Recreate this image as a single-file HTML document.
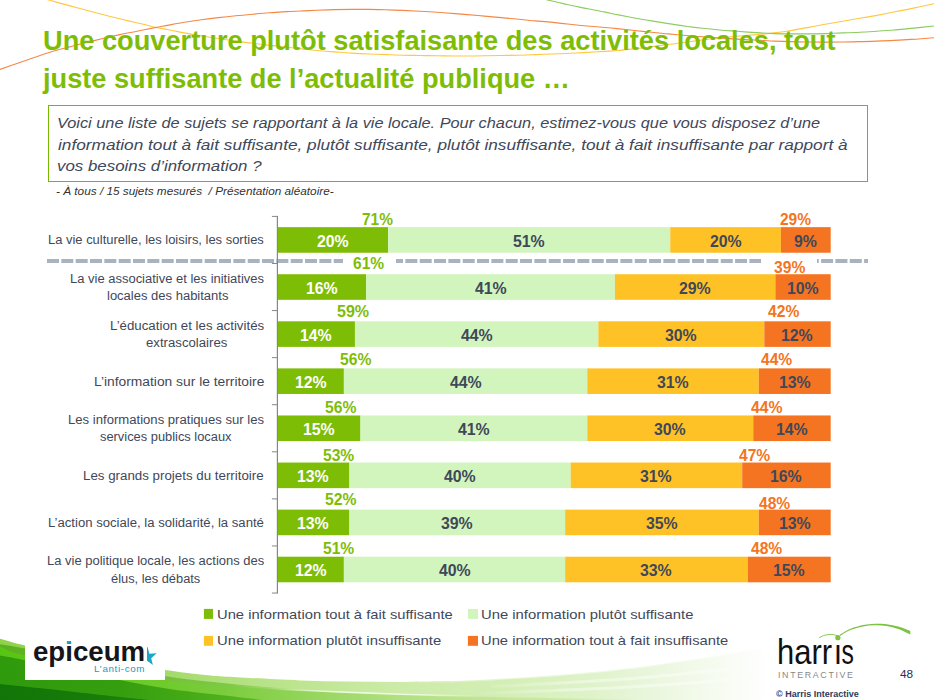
<!DOCTYPE html>
<html lang="fr">
<head>
<meta charset="utf-8">
<title>Une couverture plutôt satisfaisante des activités locales</title>
<style>
html,body{margin:0;padding:0;background:#fff;}
body{width:934px;height:700px;overflow:hidden;position:relative;font-family:"Liberation Sans", sans-serif;}
#slide{position:absolute;left:0;top:0;width:934px;height:700px;overflow:hidden;background:#fff;}
.t{position:absolute;white-space:pre;margin:0;padding:0;transform-origin:left center;}
svg{position:absolute;left:0;top:0;}
#qbox{position:absolute;left:47.8px;top:104.9px;width:818.7px;height:75.3px;border:1.3px solid #76b900;box-sizing:content-box;}
.wb{position:absolute;background:#fff;}
</style>
</head>
<body>
<div id="slide">
<svg width="934" height="700" viewBox="0 0 934 700"><defs>
<linearGradient id="g1" gradientUnits="userSpaceOnUse" x1="0" y1="0" x2="800" y2="0">
<stop offset="0" stop-color="#8ed24a"/><stop offset="0.206" stop-color="#a2da6a"/><stop offset="0.275" stop-color="#b0e07c"/>
<stop offset="0.375" stop-color="#bde590"/><stop offset="0.5" stop-color="#cceba8"/><stop offset="0.625" stop-color="#d3eeb4"/>
<stop offset="0.75" stop-color="#e0f3cc"/><stop offset="0.8125" stop-color="#e9f6dc"/><stop offset="0.875" stop-color="#f3faeb"/><stop offset="0.925" stop-color="#fafdf7"/><stop offset="0.96" stop-color="#ffffff"/><stop offset="1" stop-color="#ffffff"/>
</linearGradient>
<linearGradient id="g2" gradientUnits="userSpaceOnUse" x1="0" y1="0" x2="330" y2="0">
<stop offset="0" stop-color="#5bb01e"/><stop offset="0.5" stop-color="#76c03c"/><stop offset="0.7" stop-color="#80c84a"/><stop offset="1" stop-color="#a8dc74" stop-opacity="0"/>
</linearGradient>
<linearGradient id="g3" gradientUnits="userSpaceOnUse" x1="0" y1="0" x2="660" y2="0">
<stop offset="0" stop-color="#58c414"/><stop offset="0.25" stop-color="#6fcb2c"/><stop offset="0.333" stop-color="#7acc3c"/>
<stop offset="0.455" stop-color="#92d458"/><stop offset="0.6" stop-color="#b0e080"/><stop offset="0.85" stop-color="#cdeaa8"/><stop offset="1" stop-color="#d8f0c0" stop-opacity="0"/>
</linearGradient>
<linearGradient id="g4" gradientUnits="userSpaceOnUse" x1="0" y1="0" x2="270" y2="0">
<stop offset="0" stop-color="#2f9a0c"/><stop offset="0.45" stop-color="#359e0f"/><stop offset="0.62" stop-color="#40a614"/><stop offset="1" stop-color="#5cb824"/>
</linearGradient>
<linearGradient id="g5" gradientUnits="userSpaceOnUse" x1="0" y1="0" x2="160" y2="0">
<stop offset="0" stop-color="#127507"/><stop offset="0.6" stop-color="#177c09"/><stop offset="1" stop-color="#228a0c"/>
</linearGradient>
<linearGradient id="gh" gradientUnits="userSpaceOnUse" x1="270" y1="0" x2="480" y2="0">
<stop offset="0" stop-color="#ffffff" stop-opacity="0"/><stop offset="0.3" stop-color="#f4fbea" stop-opacity="0.9"/><stop offset="0.7" stop-color="#f4fbea" stop-opacity="0.8"/><stop offset="1" stop-color="#ffffff" stop-opacity="0"/>
</linearGradient>
<linearGradient id="ge" gradientUnits="userSpaceOnUse" x1="400" y1="0" x2="800" y2="0">
<stop offset="0" stop-color="#ffffff" stop-opacity="0"/><stop offset="0.3" stop-color="#ffffff" stop-opacity="0.5"/><stop offset="1" stop-color="#ffffff" stop-opacity="0.5"/>
</linearGradient>
<linearGradient id="gs" gradientUnits="userSpaceOnUse" x1="470" y1="0" x2="760" y2="0">
<stop offset="0" stop-color="#ffffff" stop-opacity="0"/><stop offset="0.35" stop-color="#ffffff" stop-opacity="0.4"/><stop offset="0.8" stop-color="#ffffff" stop-opacity="0.4"/><stop offset="1" stop-color="#ffffff" stop-opacity="0"/>
</linearGradient>
</defs><path d="M400.0 682.0C408.3 681.9 433.3 681.8 450.0 681.3C466.7 680.8 483.3 679.8 500.0 678.8C516.7 677.8 533.3 676.9 550.0 675.6C566.7 674.4 586.0 672.6 600.0 671.3C614.0 670.0 622.3 669.0 634.0 667.6C645.7 666.2 655.7 664.7 670.0 662.6C684.3 660.5 707.5 657.0 720.0 655.0C732.5 653.0 735.8 652.2 745.0 650.5C754.2 648.8 765.8 646.8 775.0 645.0C784.2 643.2 795.8 640.8 800.0 640.0L800.0 708L400.0 708Z" fill="url(#g1)"/><path d="M-2.0 638.2C-1.7 638.3 -4.5 637.5 0.0 638.7C4.5 639.9 15.0 643.2 25.0 645.4C35.0 647.6 47.5 649.7 60.0 652.0C72.5 654.3 82.5 656.3 100.0 659.3C117.5 662.3 148.3 667.5 165.0 670.0C181.7 672.5 190.8 673.4 200.0 674.4C209.2 675.4 211.7 675.6 220.0 676.2C228.3 676.8 236.7 677.2 250.0 677.9C263.3 678.6 283.3 679.8 300.0 680.4C316.7 681.0 333.3 681.3 350.0 681.6C366.7 681.9 383.3 682.0 400.0 682.0C416.7 682.0 441.7 681.4 450.0 681.3L450.0 708L-2.0 708Z" fill="url(#g1)"/><path d="M400.0 682.0C408.3 681.9 433.3 681.8 450.0 681.3C466.7 680.8 483.3 679.8 500.0 678.8C516.7 677.8 533.3 676.9 550.0 675.6C566.7 674.4 586.0 672.6 600.0 671.3C614.0 670.0 622.3 669.0 634.0 667.6C645.7 666.2 655.7 664.7 670.0 662.6C684.3 660.5 707.5 657.0 720.0 655.0C732.5 653.0 735.8 652.2 745.0 650.5C754.2 648.8 765.8 646.8 775.0 645.0C784.2 643.2 795.8 640.8 800.0 640.0" stroke="url(#ge)" stroke-width="2.2" fill="none"/><path d="M474.0 693.5C485.0 693.1 517.2 691.9 540.0 691.0C562.8 690.1 586.0 689.3 611.0 688.0C636.0 686.7 665.2 684.8 690.0 683.0C714.8 681.2 748.3 678.4 760.0 677.5" stroke="url(#gs)" stroke-width="3" fill="none"/><path d="M491.0 686.5C504.2 685.8 544.3 684.0 570.0 682.5C595.7 681.0 622.5 679.3 645.0 677.5C667.5 675.7 685.8 673.7 705.0 671.5C724.2 669.3 750.8 665.7 760.0 664.5" stroke="url(#gs)" stroke-width="3" fill="none"/><path d="M-2.0 643.9C-1.7 644.0 -4.3 643.6 0.0 644.3C4.3 645.0 7.3 645.2 24.0 648.3C40.7 651.4 76.5 658.4 100.0 663.0C123.5 667.6 145.0 672.7 165.0 676.0C185.0 679.3 204.2 681.0 220.0 682.8C235.8 684.5 246.7 685.4 260.0 686.5C273.3 687.6 288.3 688.8 300.0 689.6C311.7 690.4 325.0 691.2 330.0 691.5L330.0 708L-2.0 708Z" fill="url(#g2)"/><path d="M-2.0 646.3C-1.7 646.4 -4.3 645.3 0.0 646.8C4.3 648.3 7.3 651.5 24.0 655.2C40.7 658.9 76.5 664.8 100.0 669.0C123.5 673.2 145.0 677.5 165.0 680.2C185.0 682.9 200.8 683.9 220.0 685.4C239.2 686.9 260.0 688.4 280.0 689.5C300.0 690.6 320.0 691.5 340.0 692.3C360.0 693.1 380.0 693.9 400.0 694.5C420.0 695.1 440.0 695.7 460.0 696.2C480.0 696.7 496.7 697.1 520.0 697.6C543.3 698.1 576.7 698.5 600.0 699.0C623.3 699.5 650.0 700.2 660.0 700.5L660.0 708L-2.0 708Z" fill="url(#g3)"/><path d="M-2.0 655.0C-1.7 655.1 -4.3 654.7 0.0 655.5C4.3 656.3 7.3 656.6 24.0 660.0C40.7 663.4 76.5 671.3 100.0 676.0C123.5 680.7 145.0 685.1 165.0 688.3C185.0 691.5 205.8 693.3 220.0 695.0C234.2 696.7 241.7 697.5 250.0 698.5C258.3 699.5 266.7 700.6 270.0 701.0L270.0 708L-2.0 708Z" fill="url(#g4)"/><path d="M-2.0 683.5C-1.7 683.6 -4.3 683.5 0.0 684.0C4.3 684.5 11.5 685.2 24.0 686.5C36.5 687.8 59.0 690.2 75.0 692.0C91.0 693.8 107.5 695.7 120.0 697.0C132.5 698.3 143.3 699.3 150.0 700.0C156.7 700.7 158.3 700.8 160.0 701.0L160.0 708L-2.0 708Z" fill="url(#g5)"/><path d="M270.0 689.0C275.0 689.2 288.3 689.7 300.0 690.2C311.7 690.7 323.3 691.3 340.0 692.0C356.7 692.7 383.3 693.6 400.0 694.2C416.7 694.8 426.7 695.0 440.0 695.4C453.3 695.8 473.3 696.2 480.0 696.4" stroke="url(#gh)" stroke-width="1.6" fill="none"/></svg>
<svg width="934" height="700" viewBox="0 0 934 700"><path d="M45.0 -1.2C45.6 -1.0 46.3 -0.7 48.8 0.0C51.3 0.7 55.3 1.8 60.0 3.1C64.7 4.4 71.4 6.2 77.1 7.7C82.8 9.2 88.5 10.8 94.2 12.3C99.9 13.8 105.6 15.4 111.3 16.8C117.0 18.2 122.8 19.6 128.5 20.9C134.2 22.2 141.2 23.8 145.6 24.8C150.0 25.9 151.4 26.4 155.0 27.2C158.6 28.0 162.2 28.6 167.1 29.5C172.0 30.4 178.6 31.8 184.3 32.9C190.0 34.0 195.7 35.1 201.4 36.0C207.1 36.9 212.8 37.6 218.5 38.5C224.2 39.4 230.0 40.3 235.7 41.1C241.4 41.9 247.1 42.6 252.8 43.3C258.5 44.0 264.2 44.7 269.9 45.4C275.6 46.1 281.5 46.7 287.0 47.3C292.5 47.9 298.0 48.6 303.0 49.1C308.0 49.6 311.9 50.0 317.1 50.5C322.3 51.0 328.6 51.5 334.3 51.9C340.0 52.3 345.7 52.8 351.4 53.1C357.1 53.5 362.8 53.8 368.5 54.0C374.2 54.2 380.0 54.4 385.7 54.6C391.4 54.8 397.1 55.1 402.8 55.2C408.5 55.4 414.2 55.4 419.9 55.5C425.6 55.6 431.1 55.7 437.0 55.8C442.9 55.9 450.0 56.0 455.0 56.0C460.0 56.0 462.2 56.0 467.1 56.0C472.0 56.0 478.6 55.9 484.3 55.8C490.0 55.7 495.7 55.6 501.4 55.5C507.1 55.4 512.8 55.4 518.5 55.2C524.2 55.1 530.0 54.8 535.7 54.6C541.4 54.4 547.1 54.2 552.8 54.0C558.5 53.8 564.2 53.6 569.9 53.3C575.6 53.0 581.1 52.7 587.0 52.4C592.9 52.1 600.0 51.7 605.0 51.4C610.0 51.1 612.2 50.9 617.1 50.5C622.0 50.1 628.6 49.4 634.3 48.8C640.0 48.2 645.7 47.5 651.4 46.8C657.1 46.1 662.8 45.2 668.5 44.5C674.2 43.8 680.0 43.1 685.7 42.3C691.4 41.5 697.1 40.6 702.8 39.9C708.5 39.2 714.2 38.6 719.9 38.0C725.6 37.4 730.3 36.9 737.0 36.3C743.7 35.7 753.8 34.9 760.0 34.3C766.2 33.7 768.8 33.5 774.0 32.9C779.2 32.3 785.4 31.4 791.1 30.5C796.8 29.6 802.6 28.4 808.3 27.4C814.0 26.3 819.7 25.2 825.4 24.2C831.1 23.2 836.8 22.2 842.5 21.2C848.2 20.2 854.0 19.3 859.7 18.3C865.4 17.3 871.1 16.4 876.8 15.4C882.5 14.3 888.2 13.1 893.9 12.0C899.6 10.9 904.3 10.0 911.0 8.6C917.7 7.2 929.2 4.8 934.0 3.8C938.8 2.8 939.0 2.7 940.0 2.5" stroke="#ffc840" stroke-width="1.1" fill="none"/><path d="M-4.0 70.8C-3.3 70.6 -3.5 70.6 0.0 69.4C3.5 68.2 11.4 65.4 17.1 63.4C22.8 61.4 28.6 59.3 34.3 57.4C40.0 55.5 45.7 53.4 51.4 51.7C57.1 50.0 62.8 48.6 68.5 47.1C74.2 45.6 80.0 44.2 85.7 42.8C91.4 41.4 97.1 39.9 102.8 38.5C108.5 37.1 114.2 35.8 119.9 34.6C125.6 33.4 131.2 32.4 137.0 31.2C142.8 30.0 150.0 28.6 155.0 27.6C160.0 26.6 162.2 26.3 167.1 25.4C172.0 24.5 178.6 23.2 184.3 22.3C190.0 21.4 195.7 20.5 201.4 19.7C207.1 18.9 212.8 18.2 218.5 17.6C224.2 17.0 230.0 16.4 235.7 15.8C241.4 15.2 247.1 14.7 252.8 14.2C258.5 13.7 264.2 13.2 269.9 12.8C275.6 12.4 281.5 11.9 287.0 11.6C292.5 11.3 298.0 11.1 303.0 10.9C308.0 10.7 311.9 10.5 317.1 10.3C322.3 10.1 328.6 9.8 334.3 9.6C340.0 9.4 345.7 9.4 351.4 9.4C357.1 9.4 362.8 9.3 368.5 9.4C374.2 9.5 380.0 9.6 385.7 9.8C391.4 10.0 397.1 10.2 402.8 10.4C408.5 10.7 414.2 11.0 419.9 11.3C425.6 11.6 431.1 11.9 437.0 12.3C442.9 12.7 450.0 13.2 455.0 13.6C460.0 14.0 462.2 14.2 467.1 14.6C472.0 15.0 478.6 15.6 484.3 16.1C490.0 16.6 495.7 17.1 501.4 17.6C507.1 18.1 512.8 18.6 518.5 19.2C524.2 19.8 530.0 20.4 535.7 20.9C541.4 21.4 547.1 21.8 552.8 22.4C558.5 23.0 564.2 23.7 569.9 24.3C575.6 24.9 581.1 25.5 587.0 26.0C592.9 26.5 600.0 27.1 605.0 27.5C610.0 27.9 612.2 28.1 617.1 28.6C622.0 29.1 628.6 29.9 634.3 30.5C640.0 31.1 645.7 31.6 651.4 32.2C657.1 32.8 662.8 33.4 668.5 33.9C674.2 34.4 680.0 35.0 685.7 35.5C691.4 36.0 697.1 36.4 702.8 36.8C708.5 37.2 714.2 37.6 719.9 38.0C725.6 38.4 730.3 38.7 737.0 39.1C743.7 39.5 753.8 40.0 760.0 40.3C766.2 40.6 768.8 40.9 774.0 41.1C779.2 41.3 785.4 41.5 791.1 41.6C796.8 41.8 802.6 41.9 808.3 42.0C814.0 42.1 819.7 42.1 825.4 42.1C831.1 42.1 836.8 42.1 842.5 42.0C848.2 41.9 854.0 41.8 859.7 41.6C865.4 41.5 871.1 41.3 876.8 41.1C882.5 40.9 888.2 40.7 893.9 40.4C899.6 40.1 904.3 39.8 911.0 39.4C917.7 39.0 929.2 38.1 934.0 37.7C938.8 37.3 939.0 37.3 940.0 37.2" stroke="#f58846" stroke-width="1.1" fill="none"/><path d="M543.0 -1.2C543.8 -1.0 544.6 -0.7 547.6 0.0C550.6 0.7 556.1 1.9 561.3 3.1C566.4 4.2 572.8 5.7 578.5 6.9C584.2 8.1 591.2 9.4 595.6 10.3C600.0 11.2 601.4 11.4 605.0 12.1C608.6 12.8 612.2 13.6 617.1 14.6C622.0 15.6 628.6 16.9 634.3 18.0C640.0 19.1 645.7 20.0 651.4 20.9C657.1 21.8 662.8 22.7 668.5 23.6C674.2 24.5 680.0 25.4 685.7 26.2C691.4 27.0 697.1 27.7 702.8 28.3C708.5 28.9 714.2 29.5 719.9 30.0C725.6 30.5 730.3 30.8 737.0 31.3C743.7 31.8 753.8 32.5 760.0 32.9C766.2 33.3 768.8 33.4 774.0 33.6C779.2 33.8 785.4 33.9 791.1 33.9C796.8 33.9 802.6 33.9 808.3 33.9C814.0 33.9 819.7 33.8 825.4 33.6C831.1 33.4 836.8 33.1 842.5 32.9C848.2 32.7 854.0 32.5 859.7 32.2C865.4 31.9 871.1 31.6 876.8 31.2C882.5 30.8 888.2 30.5 893.9 30.0C899.6 29.5 904.3 29.1 911.0 28.4C917.7 27.7 929.2 26.5 934.0 26.0C938.8 25.5 939.0 25.4 940.0 25.3" stroke="#8ccc60" stroke-width="1.1" fill="none"/></svg>
<div class="wb" style="left:24.9px;top:640px;width:139.9px;height:39.9px;"></div>
<div id="qbox"></div>
<svg width="934" height="700" viewBox="0 0 934 700"><path d="M47.00 261H59.00M61.34 261H73.34M75.67 261H87.67M90.00 261H102.00M104.34 261H116.34M118.68 261H130.68M133.01 261H145.01M147.35 261H159.35M161.68 261H173.68M176.02 261H188.02M190.35 261H202.35M204.69 261H216.69M219.02 261H231.02M233.36 261H245.36M247.69 261H259.69M262.03 261H274.03M276.36 261H288.36M290.70 261H302.70M305.03 261H317.03M319.37 261H331.37M333.70 261H345.70M348.03 261H360.03M362.37 261H374.37M376.70 261H388.70M391.04 261H403.04M405.37 261H417.37M419.71 261H431.71M434.04 261H446.04M448.38 261H460.38M462.71 261H474.71M477.05 261H489.05M491.38 261H503.38M505.72 261H517.72M520.05 261H532.05M534.39 261H546.39M548.72 261H560.72M563.06 261H575.06M577.39 261H589.39M591.73 261H603.73M606.06 261H618.06M620.40 261H632.40M634.74 261H646.74M649.07 261H661.07M663.41 261H675.41M677.74 261H689.74M692.08 261H704.08M706.41 261H718.41M720.75 261H732.75M735.08 261H747.08M749.42 261H761.42M763.75 261H775.75M778.09 261H790.09M792.42 261H804.42M806.76 261H818.76M821.09 261H833.09M835.43 261H847.43M849.76 261H861.76M864.10 261H868.00" stroke="#a9b2be" stroke-width="3.9" fill="none"/></svg>
<div class="wb" style="left:343px;top:255px;width:53px;height:16px;"></div>
<div class="wb" style="left:761px;top:255px;width:56px;height:16px;"></div>
<svg width="934" height="700" viewBox="0 0 934 700"><rect x="277.50" y="227.14" width="110.64" height="25.60" fill="#7ebd06"/><rect x="388.14" y="227.14" width="282.13" height="25.60" fill="#d2f5be"/><rect x="670.27" y="227.14" width="110.64" height="25.60" fill="#ffc226"/><rect x="780.91" y="227.14" width="49.79" height="25.60" fill="#f57421"/><rect x="277.50" y="274.22" width="88.51" height="25.60" fill="#7ebd06"/><rect x="366.01" y="274.22" width="248.94" height="25.60" fill="#d2f5be"/><rect x="614.95" y="274.22" width="160.43" height="25.60" fill="#ffc226"/><rect x="775.38" y="274.22" width="55.32" height="25.60" fill="#f57421"/><rect x="277.50" y="321.30" width="77.45" height="25.60" fill="#7ebd06"/><rect x="354.95" y="321.30" width="243.41" height="25.60" fill="#d2f5be"/><rect x="598.36" y="321.30" width="165.96" height="25.60" fill="#ffc226"/><rect x="764.32" y="321.30" width="66.38" height="25.60" fill="#f57421"/><rect x="277.50" y="368.38" width="66.38" height="25.60" fill="#7ebd06"/><rect x="343.88" y="368.38" width="243.41" height="25.60" fill="#d2f5be"/><rect x="587.29" y="368.38" width="171.49" height="25.60" fill="#ffc226"/><rect x="758.78" y="368.38" width="71.92" height="25.60" fill="#f57421"/><rect x="277.50" y="415.46" width="82.98" height="25.60" fill="#7ebd06"/><rect x="360.48" y="415.46" width="226.81" height="25.60" fill="#d2f5be"/><rect x="587.29" y="415.46" width="165.96" height="25.60" fill="#ffc226"/><rect x="753.25" y="415.46" width="77.45" height="25.60" fill="#f57421"/><rect x="277.50" y="462.54" width="71.92" height="25.60" fill="#7ebd06"/><rect x="349.42" y="462.54" width="221.28" height="25.60" fill="#d2f5be"/><rect x="570.70" y="462.54" width="171.49" height="25.60" fill="#ffc226"/><rect x="742.19" y="462.54" width="88.51" height="25.60" fill="#f57421"/><rect x="277.50" y="509.62" width="71.92" height="25.60" fill="#7ebd06"/><rect x="349.42" y="509.62" width="215.75" height="25.60" fill="#d2f5be"/><rect x="565.16" y="509.62" width="193.62" height="25.60" fill="#ffc226"/><rect x="758.78" y="509.62" width="71.92" height="25.60" fill="#f57421"/><rect x="277.50" y="556.70" width="66.38" height="25.60" fill="#7ebd06"/><rect x="343.88" y="556.70" width="221.28" height="25.60" fill="#d2f5be"/><rect x="565.16" y="556.70" width="182.56" height="25.60" fill="#ffc226"/><rect x="747.72" y="556.70" width="82.98" height="25.60" fill="#f57421"/><rect x="203.90" y="608.90" width="9.10" height="10.00" fill="#7ebd06"/><rect x="467.90" y="608.90" width="10.10" height="10.00" fill="#d2f5be"/><rect x="203.90" y="635.90" width="9.10" height="9.90" fill="#ffc226"/><rect x="467.90" y="635.90" width="10.10" height="9.90" fill="#f57421"/><rect x="276.8" y="215.90" width="1.2" height="377.64" fill="#84878c"/><rect x="271.9" y="215.90" width="5.5" height="1" fill="#84878c"/><rect x="271.9" y="262.98" width="5.5" height="1" fill="#84878c"/><rect x="271.9" y="310.06" width="5.5" height="1" fill="#84878c"/><rect x="271.9" y="357.14" width="5.5" height="1" fill="#84878c"/><rect x="271.9" y="404.22" width="5.5" height="1" fill="#84878c"/><rect x="271.9" y="451.30" width="5.5" height="1" fill="#84878c"/><rect x="271.9" y="498.38" width="5.5" height="1" fill="#84878c"/><rect x="271.9" y="545.46" width="5.5" height="1" fill="#84878c"/><rect x="271.9" y="592.54" width="5.5" height="1" fill="#84878c"/></svg>
<div class="t" id="title1" style="left:42.70px;top:27.00px;color:#7ebd06;font-size:28.0px;line-height:28.0px;font-weight:bold;font-style:normal;transform:scaleX(0.9719);">Une couverture plutôt satisfaisante des activités locales, tout</div>
<div class="t" id="title2" style="left:42.55px;top:65.00px;color:#7ebd06;font-size:28.0px;line-height:28.0px;font-weight:bold;font-style:normal;transform:scaleX(0.9704);">juste suffisante de l’actualité publique …</div>
<div class="t" id="q1" style="left:57.21px;top:116.00px;color:#3f4859;font-size:14.5px;line-height:14.5px;font-weight:normal;font-style:italic;transform:scaleX(1.1241);">Voici une liste de sujets se rapportant à la vie locale. Pour chacun, estimez-vous que vous disposez d’une</div>
<div class="t" id="q2" style="left:57.56px;top:138.00px;color:#3f4859;font-size:14.5px;line-height:14.5px;font-weight:normal;font-style:italic;transform:scaleX(1.1888);">information tout à fait suffisante, plutôt suffisante, plutôt insuffisante, tout à fait insuffisante par rapport à</div>
<div class="t" id="q3" style="left:57.27px;top:159.00px;color:#3f4859;font-size:14.5px;line-height:14.5px;font-weight:normal;font-style:italic;transform:scaleX(1.1641);">vos besoins d’information ?</div>
<div class="t" id="foot" style="left:55.53px;top:186.00px;color:#333;font-size:10.7px;line-height:10.7px;font-weight:normal;font-style:italic;transform:scaleX(1.1025);">- À tous / 15 sujets mesurés  / Présentation aléatoire-</div>
<div class="t" id="s0_0" style="left:316.86px;top:234.00px;color:#ffffff;font-size:16.0px;line-height:16.0px;font-weight:bold;font-style:normal;transform:scaleX(0.9900);">20%</div>
<div class="t" id="s0_1" style="left:513.20px;top:234.00px;color:#3f4859;font-size:16.0px;line-height:16.0px;font-weight:bold;font-style:normal;transform:scaleX(0.9900);">51%</div>
<div class="t" id="s0_2" style="left:709.63px;top:234.00px;color:#3f4859;font-size:16.0px;line-height:16.0px;font-weight:bold;font-style:normal;transform:scaleX(0.9900);">20%</div>
<div class="t" id="s0_3" style="left:794.18px;top:234.00px;color:#3f4859;font-size:16.0px;line-height:16.0px;font-weight:bold;font-style:normal;transform:scaleX(0.9900);">9%</div>
<div class="t" id="l0_0" style="left:47.96px;top:234.00px;color:#3f4859;font-size:12.3px;line-height:12.3px;font-weight:normal;font-style:normal;transform:scaleX(1.0526);">La vie culturelle, les loisirs, les sorties</div>
<div class="t" id="s1_0" style="left:305.62px;top:281.00px;color:#ffffff;font-size:16.0px;line-height:16.0px;font-weight:bold;font-style:normal;transform:scaleX(0.9900);">16%</div>
<div class="t" id="s1_1" style="left:474.68px;top:281.00px;color:#3f4859;font-size:16.0px;line-height:16.0px;font-weight:bold;font-style:normal;transform:scaleX(0.9900);">41%</div>
<div class="t" id="s1_2" style="left:679.21px;top:281.00px;color:#3f4859;font-size:16.0px;line-height:16.0px;font-weight:bold;font-style:normal;transform:scaleX(0.9900);">29%</div>
<div class="t" id="s1_3" style="left:786.91px;top:281.00px;color:#3f4859;font-size:16.0px;line-height:16.0px;font-weight:bold;font-style:normal;transform:scaleX(0.9900);">10%</div>
<div class="t" id="l1_0" style="left:69.86px;top:273.00px;color:#3f4859;font-size:12.3px;line-height:12.3px;font-weight:normal;font-style:normal;transform:scaleX(1.0551);">La vie associative et les initiatives</div>
<div class="t" id="l1_1" style="left:106.50px;top:290.00px;color:#3f4859;font-size:12.3px;line-height:12.3px;font-weight:normal;font-style:normal;transform:scaleX(1.0575);">locales des habitants</div>
<div class="t" id="s2_0" style="left:300.09px;top:328.00px;color:#ffffff;font-size:16.0px;line-height:16.0px;font-weight:bold;font-style:normal;transform:scaleX(0.9900);">14%</div>
<div class="t" id="s2_1" style="left:460.85px;top:328.00px;color:#3f4859;font-size:16.0px;line-height:16.0px;font-weight:bold;font-style:normal;transform:scaleX(0.9900);">44%</div>
<div class="t" id="s2_2" style="left:665.39px;top:328.00px;color:#3f4859;font-size:16.0px;line-height:16.0px;font-weight:bold;font-style:normal;transform:scaleX(0.9900);">30%</div>
<div class="t" id="s2_3" style="left:781.37px;top:328.00px;color:#3f4859;font-size:16.0px;line-height:16.0px;font-weight:bold;font-style:normal;transform:scaleX(0.9900);">12%</div>
<div class="t" id="l2_0" style="left:109.74px;top:320.00px;color:#3f4859;font-size:12.3px;line-height:12.3px;font-weight:normal;font-style:normal;transform:scaleX(1.0789);">L’éducation et les activités</div>
<div class="t" id="l2_1" style="left:146.05px;top:337.00px;color:#3f4859;font-size:12.3px;line-height:12.3px;font-weight:normal;font-style:normal;transform:scaleX(1.0719);">extrascolaires</div>
<div class="t" id="s3_0" style="left:294.56px;top:375.00px;color:#ffffff;font-size:16.0px;line-height:16.0px;font-weight:bold;font-style:normal;transform:scaleX(0.9900);">12%</div>
<div class="t" id="s3_1" style="left:449.79px;top:375.00px;color:#3f4859;font-size:16.0px;line-height:16.0px;font-weight:bold;font-style:normal;transform:scaleX(0.9900);">44%</div>
<div class="t" id="s3_2" style="left:657.09px;top:375.00px;color:#3f4859;font-size:16.0px;line-height:16.0px;font-weight:bold;font-style:normal;transform:scaleX(0.9900);">31%</div>
<div class="t" id="s3_3" style="left:778.61px;top:375.00px;color:#3f4859;font-size:16.0px;line-height:16.0px;font-weight:bold;font-style:normal;transform:scaleX(0.9900);">13%</div>
<div class="t" id="l3_0" style="left:93.50px;top:376.00px;color:#3f4859;font-size:12.3px;line-height:12.3px;font-weight:normal;font-style:normal;transform:scaleX(1.1227);">L’information sur le territoire</div>
<div class="t" id="s4_0" style="left:302.86px;top:422.00px;color:#ffffff;font-size:16.0px;line-height:16.0px;font-weight:bold;font-style:normal;transform:scaleX(0.9900);">15%</div>
<div class="t" id="s4_1" style="left:458.09px;top:422.00px;color:#3f4859;font-size:16.0px;line-height:16.0px;font-weight:bold;font-style:normal;transform:scaleX(0.9900);">41%</div>
<div class="t" id="s4_2" style="left:654.32px;top:422.00px;color:#3f4859;font-size:16.0px;line-height:16.0px;font-weight:bold;font-style:normal;transform:scaleX(0.9900);">30%</div>
<div class="t" id="s4_3" style="left:775.84px;top:422.00px;color:#3f4859;font-size:16.0px;line-height:16.0px;font-weight:bold;font-style:normal;transform:scaleX(0.9900);">14%</div>
<div class="t" id="l4_0" style="left:67.85px;top:414.00px;color:#3f4859;font-size:12.3px;line-height:12.3px;font-weight:normal;font-style:normal;transform:scaleX(1.0661);">Les informations pratiques sur les</div>
<div class="t" id="l4_1" style="left:100.33px;top:431.00px;color:#3f4859;font-size:12.3px;line-height:12.3px;font-weight:normal;font-style:normal;transform:scaleX(1.0456);">services publics locaux</div>
<div class="t" id="s5_0" style="left:297.32px;top:469.00px;color:#ffffff;font-size:16.0px;line-height:16.0px;font-weight:bold;font-style:normal;transform:scaleX(0.9900);">13%</div>
<div class="t" id="s5_1" style="left:444.26px;top:469.00px;color:#3f4859;font-size:16.0px;line-height:16.0px;font-weight:bold;font-style:normal;transform:scaleX(0.9900);">40%</div>
<div class="t" id="s5_2" style="left:640.49px;top:469.00px;color:#3f4859;font-size:16.0px;line-height:16.0px;font-weight:bold;font-style:normal;transform:scaleX(0.9900);">31%</div>
<div class="t" id="s5_3" style="left:770.31px;top:469.00px;color:#3f4859;font-size:16.0px;line-height:16.0px;font-weight:bold;font-style:normal;transform:scaleX(0.9900);">16%</div>
<div class="t" id="l5_0" style="left:83.23px;top:470.00px;color:#3f4859;font-size:12.3px;line-height:12.3px;font-weight:normal;font-style:normal;transform:scaleX(1.0832);">Les grands projets du territoire</div>
<div class="t" id="s6_0" style="left:297.32px;top:516.00px;color:#ffffff;font-size:16.0px;line-height:16.0px;font-weight:bold;font-style:normal;transform:scaleX(0.9900);">13%</div>
<div class="t" id="s6_1" style="left:441.34px;top:516.00px;color:#3f4859;font-size:16.0px;line-height:16.0px;font-weight:bold;font-style:normal;transform:scaleX(0.9900);">39%</div>
<div class="t" id="s6_2" style="left:646.03px;top:516.00px;color:#3f4859;font-size:16.0px;line-height:16.0px;font-weight:bold;font-style:normal;transform:scaleX(0.9900);">35%</div>
<div class="t" id="s6_3" style="left:778.61px;top:516.00px;color:#3f4859;font-size:16.0px;line-height:16.0px;font-weight:bold;font-style:normal;transform:scaleX(0.9900);">13%</div>
<div class="t" id="l6_0" style="left:48.05px;top:517.00px;color:#3f4859;font-size:12.3px;line-height:12.3px;font-weight:normal;font-style:normal;transform:scaleX(1.0670);">L’action sociale, la solidarité, la santé</div>
<div class="t" id="s7_0" style="left:294.56px;top:563.00px;color:#ffffff;font-size:16.0px;line-height:16.0px;font-weight:bold;font-style:normal;transform:scaleX(0.9900);">12%</div>
<div class="t" id="s7_1" style="left:438.72px;top:563.00px;color:#3f4859;font-size:16.0px;line-height:16.0px;font-weight:bold;font-style:normal;transform:scaleX(0.9900);">40%</div>
<div class="t" id="s7_2" style="left:640.49px;top:563.00px;color:#3f4859;font-size:16.0px;line-height:16.0px;font-weight:bold;font-style:normal;transform:scaleX(0.9900);">33%</div>
<div class="t" id="s7_3" style="left:773.08px;top:563.00px;color:#3f4859;font-size:16.0px;line-height:16.0px;font-weight:bold;font-style:normal;transform:scaleX(0.9900);">15%</div>
<div class="t" id="l7_0" style="left:46.76px;top:555.00px;color:#3f4859;font-size:12.3px;line-height:12.3px;font-weight:normal;font-style:normal;transform:scaleX(1.0558);">La vie politique locale, les actions des</div>
<div class="t" id="l7_1" style="left:110.86px;top:573.00px;color:#3f4859;font-size:12.3px;line-height:12.3px;font-weight:normal;font-style:normal;transform:scaleX(1.0447);">élus, les débats</div>
<div class="t" id="tg0" style="left:362.17px;top:212.00px;color:#7ebd06;font-size:16.0px;line-height:16.0px;font-weight:bold;font-style:normal;transform:scaleX(0.9660);">71%</div>
<div class="t" id="tg1" style="left:353.24px;top:256.00px;color:#7ebd06;font-size:16.0px;line-height:16.0px;font-weight:bold;font-style:normal;transform:scaleX(0.9702);">61%</div>
<div class="t" id="tg2" style="left:337.16px;top:304.00px;color:#7ebd06;font-size:16.0px;line-height:16.0px;font-weight:bold;font-style:normal;transform:scaleX(1.0042);">59%</div>
<div class="t" id="tg3" style="left:339.88px;top:352.00px;color:#7ebd06;font-size:16.0px;line-height:16.0px;font-weight:bold;font-style:normal;transform:scaleX(0.9817);">56%</div>
<div class="t" id="tg4" style="left:324.88px;top:400.00px;color:#7ebd06;font-size:16.0px;line-height:16.0px;font-weight:bold;font-style:normal;transform:scaleX(0.9817);">56%</div>
<div class="t" id="tg5" style="left:322.58px;top:448.00px;color:#7ebd06;font-size:16.0px;line-height:16.0px;font-weight:bold;font-style:normal;transform:scaleX(0.9753);">53%</div>
<div class="t" id="tg6" style="left:324.88px;top:492.00px;color:#7ebd06;font-size:16.0px;line-height:16.0px;font-weight:bold;font-style:normal;transform:scaleX(0.9817);">52%</div>
<div class="t" id="tg7" style="left:322.58px;top:541.00px;color:#7ebd06;font-size:16.0px;line-height:16.0px;font-weight:bold;font-style:normal;transform:scaleX(0.9753);">51%</div>
<div class="t" id="to0" style="left:780.48px;top:212.00px;color:#f57421;font-size:16.0px;line-height:16.0px;font-weight:bold;font-style:normal;transform:scaleX(0.9689);">29%</div>
<div class="t" id="to1" style="left:774.30px;top:260.00px;color:#f57421;font-size:16.0px;line-height:16.0px;font-weight:bold;font-style:normal;transform:scaleX(0.9779);">39%</div>
<div class="t" id="to2" style="left:768.29px;top:304.00px;color:#f57421;font-size:16.0px;line-height:16.0px;font-weight:bold;font-style:normal;transform:scaleX(0.9781);">42%</div>
<div class="t" id="to3" style="left:760.79px;top:352.00px;color:#f57421;font-size:16.0px;line-height:16.0px;font-weight:bold;font-style:normal;transform:scaleX(0.9750);">44%</div>
<div class="t" id="to4" style="left:750.79px;top:400.00px;color:#f57421;font-size:16.0px;line-height:16.0px;font-weight:bold;font-style:normal;transform:scaleX(0.9845);">44%</div>
<div class="t" id="to5" style="left:738.79px;top:448.00px;color:#f57421;font-size:16.0px;line-height:16.0px;font-weight:bold;font-style:normal;transform:scaleX(0.9750);">47%</div>
<div class="t" id="to6" style="left:758.59px;top:496.00px;color:#f57421;font-size:16.0px;line-height:16.0px;font-weight:bold;font-style:normal;transform:scaleX(0.9750);">48%</div>
<div class="t" id="to7" style="left:750.79px;top:541.00px;color:#f57421;font-size:16.0px;line-height:16.0px;font-weight:bold;font-style:normal;transform:scaleX(0.9750);">48%</div>
<div class="t" id="lg1" style="left:216.60px;top:608.00px;color:#3f4859;font-size:13.2px;line-height:13.2px;font-weight:normal;font-style:normal;transform:scaleX(1.1180);">Une information tout à fait suffisante</div>
<div class="t" id="lg2" style="left:481.40px;top:608.00px;color:#3f4859;font-size:13.2px;line-height:13.2px;font-weight:normal;font-style:normal;transform:scaleX(1.1244);">Une information plutôt suffisante</div>
<div class="t" id="lg3" style="left:216.60px;top:634.00px;color:#3f4859;font-size:13.2px;line-height:13.2px;font-weight:normal;font-style:normal;transform:scaleX(1.1258);">Une information plutôt insuffisante</div>
<div class="t" id="lg4" style="left:481.40px;top:634.00px;color:#3f4859;font-size:13.2px;line-height:13.2px;font-weight:normal;font-style:normal;transform:scaleX(1.1178);">Une information tout à fait insuffisante</div>
<div class="t" id="pg" style="left:900.04px;top:668.00px;color:#2a3050;font-size:11.6px;line-height:11.6px;font-weight:normal;font-style:normal;transform:scaleX(1.0167);">48</div>
<div class="t" id="copy" style="left:775.63px;top:690.00px;color:#2f3a5c;font-size:8.8px;line-height:8.8px;font-weight:bold;font-style:normal;transform:scaleX(1.0231);">© Harris Interactive</div>
<div class="t" id="harris" style="left:777.19px;top:634.00px;color:#111;font-size:35px;line-height:35px;font-weight:normal;font-style:normal;transform:scaleX(0.8844);">harr<span style="margin-left:2.7px">i</span><span style="display:inline-block;transform:scaleX(.8);transform-origin:left center;margin-left:.4px">s</span></div>
<div class="t" id="inter" style="left:778.44px;top:671.00px;color:#878787;font-size:8.6px;line-height:8.6px;font-weight:normal;font-style:normal;letter-spacing:1.6px;transform:scaleX(1.0300);">INTERACTIVE</div>
<div class="t" id="epi" style="left:32.77px;top:639.00px;color:#16161a;font-size:26.8px;line-height:26.8px;font-weight:bold;font-style:normal;transform:scaleX(1.0316);">epiceum</div>
<div class="t" id="anti" style="left:93.84px;top:665.00px;color:#149dc2;font-size:9.2px;line-height:9.2px;font-weight:normal;font-style:normal;letter-spacing:0.6px;transform:scaleX(1.0693);">L’anti-com</div>
<svg width="934" height="700" viewBox="0 0 934 700"><rect x="836" y="637.5" width="6" height="5.6" fill="#fff"/><rect x="66" y="636.5" width="6.5" height="5" fill="#fff"/><rect x="66.9" y="641" width="3.9" height="2.8" fill="#1ca7c6"/><path d="M839.5 635.0C840.4 634.4 843.0 632.7 845.0 631.6C847.0 630.5 848.2 629.7 851.2 628.6C854.2 627.5 859.1 625.9 863.0 625.1C866.9 624.3 870.9 623.9 874.8 623.8C878.7 623.7 882.7 623.8 886.6 624.3C890.5 624.8 894.3 625.5 898.3 626.6C902.2 627.7 908.3 630.3 910.3 631.0L910.3 634.4C908.3 633.5 902.2 630.3 898.3 628.9C894.3 627.5 890.5 626.6 886.6 626.0C882.7 625.4 878.7 625.1 874.8 625.2C870.9 625.3 866.9 625.6 863.0 626.4C859.1 627.2 854.2 628.8 851.2 629.8C848.2 630.8 846.8 631.7 845.0 632.7C843.2 633.7 841.2 635.3 840.5 635.8Z" fill="#7dc242"/><path d="M819.4 637.6C819.8 637.4 821.0 636.6 822.0 636.2C823.0 635.8 823.8 635.4 825.3 635.1C826.8 634.8 829.5 634.4 831.2 634.4C832.9 634.4 834.4 634.8 835.5 635.2C836.6 635.6 837.6 636.4 838.0 636.6" stroke="#7dc242" stroke-width="0.9" fill="none" stroke-linecap="round"/><circle cx="837.9" cy="637.7" r="2.6" fill="#7dc242"/><path d="M147 646.9L147.5 646.9L149.4 653.7L156.7 653.3L151.2 658.3L152.9 664.9L147.4 661.1L147 661.1Z" fill="#1ca7c6"/></svg>
</div>
</body>
</html>
